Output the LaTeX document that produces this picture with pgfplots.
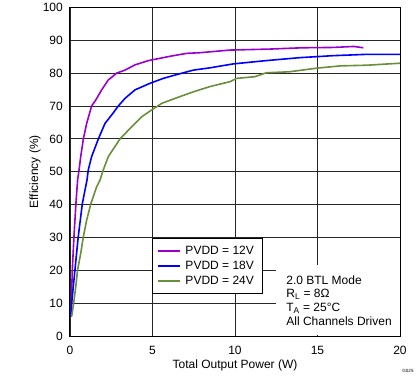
\documentclass[border=0pt]{standalone}
\usepackage{pgfplots}
\pgfplotsset{compat=1.18}
\usepackage{fontspec}
\setmainfont{Liberation Sans}
\definecolor{cpurple}{RGB}{153,0,204}
\definecolor{cblue}{RGB}{0,0,255}
\definecolor{colive}{RGB}{107,142,58}
\begin{document}
\begin{tikzpicture}
\begin{axis}[
  scale only axis,
  width=330bp, height=329bp,
  xmin=0, xmax=20, ymin=0, ymax=100,
  xtick={0,5,10,15,20}, ytick={0,10,...,100},
  grid=major,
  major grid style={line width=0.8bp, draw=black!85},
  axis line style={line width=1bp, draw=black},
  major tick length=0pt,
  /pgf/number format/assume math mode=true,
  font=\fontsize{12bp}{14bp}\selectfont,
  xticklabel style={anchor=center, inner sep=0pt, yshift=-13.7bp},
  yticklabel style={anchor=east, inner sep=0pt, xshift=-7bp},
  xlabel={Total Output Power (W)},
  ylabel={Efficiency (\%)},
  xlabel style={at={(rel axis cs:0.5,0)}, anchor=center, yshift=-29.4bp},
  ylabel style={at={(rel axis cs:0,0.5)}, anchor=center, yshift=35bp},
  legend cell align=left,
  legend style={at={(axis cs:5,29.8)}, anchor=north west, fill=white, draw=black, line width=0.8bp,
    font=\fontsize{12bp}{14bp}\selectfont, inner xsep=4bp, inner ysep=5bp, row sep=0bp,
    nodes={inner xsep=5bp, inner ysep=1.75bp, text height=9bp, text depth=2.5bp}},
  legend image code/.code={\draw[#1] (0bp,0bp) -- (22bp,0bp);},
  every axis plot/.append style={line width=1.6bp, no marks},
]
\addplot[cpurple] coordinates {
(0.06,6) (0.14,20.2) (0.24,30.3) (0.36,40.4) (0.46,47.5) (0.55,50.6) (0.65,54.6) (0.81,60)
(1.01,64.7) (1.31,70) (1.56,71.8) (1.92,74.9) (2.32,77.9) (2.83,80) (3.33,80.9) (3.94,82.5)
(4.75,83.8) (6.16,85.2) (7.07,86) (7.88,86.2) (9.7,87.0) (12.1,87.3) (14.1,87.7) (15.96,87.8)
(17.2,88.1) (17.78,87.7)
};
\addlegendentry{PVDD = 12V}
\addplot[cblue] coordinates {
(0.04,6) (0.1,10) (0.3,20.2) (0.5,30.3) (0.75,40.4) (1.03,47.5) (1.11,50.6) (1.31,54.6)
(1.72,60) (2.12,64.7) (2.53,67.3) (2.93,70) (3.33,72.3) (3.94,74.9) (4.85,76.9) (5.66,78.4)
(6.36,79.4) (7.47,80.9) (8.48,81.6) (9.9,82.8) (11.9,83.8) (13.94,84.7) (15.96,85.3)
(17.98,85.7) (20,85.7)
};
\addlegendentry{PVDD = 18V}
\addplot[colive] coordinates {
(0.1,6) (0.22,10) (0.35,15.1) (0.46,20.2) (0.65,25.2) (0.81,30.3) (1.01,35.3) (1.27,40.4)
(1.62,45.5) (1.82,47.5) (2.02,50.6) (2.32,54.6) (3.03,60) (3.74,63.7) (4.34,66.7) (4.95,68.8)
(5.56,70.8) (6.36,72.3) (7.47,74.3) (8.48,75.9) (9.7,77.4) (10.1,78.4) (11.2,78.9) (11.9,80.1)
(13.3,80.4) (14.95,81.5) (16.4,82.2) (18,82.4) (20,83.0)
};
\addlegendentry{PVDD = 24V}
\fill[white] (axis cs:12.5,0.3) rectangle (axis cs:19.97,21.7);
\node[anchor=north west, align=left, inner sep=0pt, font=\fontsize{12bp}{13.9bp}\selectfont]
  at (axis cs:13.1,18.6) {2.0 BTL Mode\\R\textsubscript{L} = 8Ω\\T\textsubscript{A} = 25°C\\All Channels Driven};
\coordinate (sw) at (rel axis cs:0,0);
\coordinate (ne) at (rel axis cs:1,1);
\coordinate (se) at (rel axis cs:1,0);
\end{axis}
\node[font=\fontsize{4.5bp}{5bp}\selectfont, inner sep=0pt] at ([xshift=8bp,yshift=-34.7bp]se) {G025};
\pgfresetboundingbox
\useasboundingbox ([xshift=-70bp,yshift=-45.7bp]sw) rectangle ([xshift=19bp,yshift=7.3bp]ne);
\end{tikzpicture}
\end{document}
